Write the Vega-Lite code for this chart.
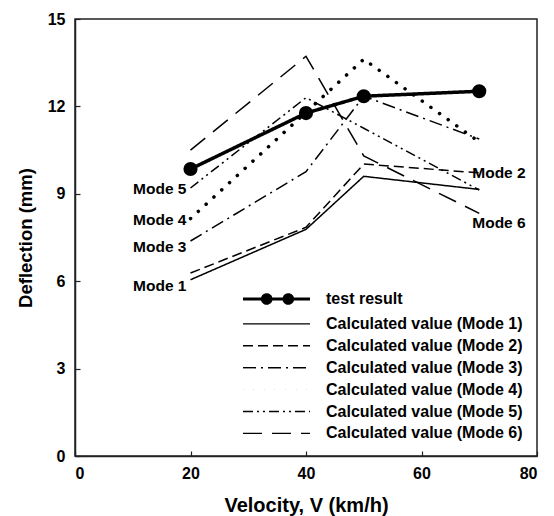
{
  "$schema": "https://vega.github.io/schema/vega-lite/v6.json",
  "width": 462,
  "height": 437,
  "autosize": "none",
  "padding": {"left": 75, "top": 19, "right": 17, "bottom": 60},
  "background": "white",
  "config": {
    "font": "Liberation Sans",
    "view": {"stroke": "#222", "strokeWidth": 1.5},
    "axis": {
      "grid": false,
      "domainColor": "#222",
      "domainWidth": 1.5,
      "tickColor": "#222",
      "tickWidth": 1.2,
      "tickSize": -5,
      "labelFont": "Liberation Sans",
      "labelFontWeight": "bold",
      "labelFontSize": 16,
      "labelColor": "black",
      "titleFont": "Liberation Sans",
      "titleFontWeight": "bold",
      "titleColor": "black"
    }
  },
  "data": {
    "values": [
      {"series": "test result", "mode": "", "velocity": 20, "deflection": 9.85},
      {"series": "test result", "mode": "", "velocity": 40, "deflection": 11.77},
      {"series": "test result", "mode": "", "velocity": 50, "deflection": 12.35},
      {"series": "test result", "mode": "", "velocity": 70, "deflection": 12.52},
      {"series": "Calculated value (Mode 1)", "mode": "Mode 1", "velocity": 20, "deflection": 6.05},
      {"series": "Calculated value (Mode 1)", "mode": "Mode 1", "velocity": 40, "deflection": 7.78},
      {"series": "Calculated value (Mode 1)", "mode": "Mode 1", "velocity": 50, "deflection": 9.6},
      {"series": "Calculated value (Mode 1)", "mode": "Mode 1", "velocity": 70, "deflection": 9.15},
      {"series": "Calculated value (Mode 2)", "mode": "Mode 2", "velocity": 20, "deflection": 6.28},
      {"series": "Calculated value (Mode 2)", "mode": "Mode 2", "velocity": 40, "deflection": 7.85},
      {"series": "Calculated value (Mode 2)", "mode": "Mode 2", "velocity": 50, "deflection": 10.02},
      {"series": "Calculated value (Mode 2)", "mode": "Mode 2", "velocity": 70, "deflection": 9.72},
      {"series": "Calculated value (Mode 3)", "mode": "Mode 3", "velocity": 20, "deflection": 7.38},
      {"series": "Calculated value (Mode 3)", "mode": "Mode 3", "velocity": 40, "deflection": 9.76},
      {"series": "Calculated value (Mode 3)", "mode": "Mode 3", "velocity": 50, "deflection": 12.35},
      {"series": "Calculated value (Mode 3)", "mode": "Mode 3", "velocity": 70, "deflection": 10.88},
      {"series": "Calculated value (Mode 4)", "mode": "Mode 4", "velocity": 20, "deflection": 8.15},
      {"series": "Calculated value (Mode 4)", "mode": "Mode 4", "velocity": 40, "deflection": 11.8},
      {"series": "Calculated value (Mode 4)", "mode": "Mode 4", "velocity": 50, "deflection": 13.62},
      {"series": "Calculated value (Mode 4)", "mode": "Mode 4", "velocity": 70, "deflection": 10.78},
      {"series": "Calculated value (Mode 5)", "mode": "Mode 5", "velocity": 20, "deflection": 9.2},
      {"series": "Calculated value (Mode 5)", "mode": "Mode 5", "velocity": 40, "deflection": 12.3},
      {"series": "Calculated value (Mode 5)", "mode": "Mode 5", "velocity": 50, "deflection": 11.25},
      {"series": "Calculated value (Mode 5)", "mode": "Mode 5", "velocity": 70, "deflection": 9.13},
      {"series": "Calculated value (Mode 6)", "mode": "Mode 6", "velocity": 20, "deflection": 10.5},
      {"series": "Calculated value (Mode 6)", "mode": "Mode 6", "velocity": 40, "deflection": 13.72},
      {"series": "Calculated value (Mode 6)", "mode": "Mode 6", "velocity": 50, "deflection": 10.3},
      {"series": "Calculated value (Mode 6)", "mode": "Mode 6", "velocity": 70, "deflection": 8.33}
    ]
  },
  "encoding": {
    "x": {
      "field": "velocity", "type": "quantitative",
      "scale": {"domain": [0, 80], "nice": false},
      "axis": {"values": [0, 20, 40, 60, 80], "title": "Velocity, V (km/h)", "titleFontSize": 20, "labelPadding": 14, "titlePadding": 14}
    },
    "y": {
      "field": "deflection", "type": "quantitative",
      "scale": {"domain": [0, 15], "nice": false},
      "axis": {"values": [0, 3, 6, 9, 12, 15], "title": "Deflection (mm)", "titleFontSize": 18.5, "labelPadding": 15, "titlePadding": 12}
    }
  },
  "layer": [
    {
      "transform": [{"filter": "datum.series !== 'test result' && datum.series !== 'Calculated value (Mode 4)'"}],
      "mark": {"type": "line", "color": "black", "strokeWidth": 1.5},
      "encoding": {
        "strokeDash": {
          "field": "series", "type": "nominal",
          "scale": {
            "domain": ["test result", "Calculated value (Mode 1)", "Calculated value (Mode 2)", "Calculated value (Mode 3)", "Calculated value (Mode 4)", "Calculated value (Mode 5)", "Calculated value (Mode 6)"],
            "range": [[1, 0], [1, 0], [10, 5], [13, 5, 2, 5], [0.1, 10.5], [10, 4, 2, 4, 2, 4], [19, 10]]
          },
          "legend": {
            "orient": "bottom-right",
            "offset": 14,
            "title": null,
            "padding": 0,
            "labelFont": "Liberation Sans",
            "labelFontWeight": "bold",
            "labelFontSize": 16,
            "labelColor": "black",
            "labelLimit": 0,
            "labelOffset": 70,
            "rowPadding": 5.9,
            "symbolSize": 100,
            "symbolStrokeWidth": 1.3,
            "symbolStrokeColor": "black",
            "encode": {
              "symbols": {
                "update": {
                  "shape": {"signal": "datum.value === 'test result' ? 'M-1,0L12.4,0M2.88,0A0.86,0.86,0,1,0,4.6,0A0.86,0.86,0,1,0,2.88,0ZM7.2,0A0.86,0.86,0,1,0,8.92,0A0.86,0.86,0,1,0,7.2,0Z' : 'M-1,0L12.4,0'"},
                  "fill": {"signal": "datum.value === 'test result' ? 'black' : 'transparent'"},
                  "strokeWidth": {"signal": "datum.value === 'test result' ? 3 : 1.4"},
                  "strokeDash": {"signal": "datum.value === 'test result' ? [1, 0] : datum.value === 'Calculated value (Mode 1)' ? [1, 0] : datum.value === 'Calculated value (Mode 2)' ? [7, 5] : datum.value === 'Calculated value (Mode 3)' ? [8, 4, 2, 4] : datum.value === 'Calculated value (Mode 4)' ? [1.5, 1.5] : datum.value === 'Calculated value (Mode 5)' ? [8, 4, 2, 3, 2, 4] : [16, 12]"},
                  "stroke": {"value": "black"}
                }
              }
            }
          }
        }
      }
    },
    {
      "transform": [{"filter": "datum.series === 'Calculated value (Mode 4)'"}],
      "mark": {"type": "line", "color": "black", "strokeWidth": 3.5, "strokeCap": "round"},
      "encoding": {"strokeDash": {"field": "series", "type": "nominal"}}
    },
    {
      "transform": [{"filter": "datum.series === 'test result'"}],
      "mark": {"type": "line", "color": "black", "strokeWidth": 3.5},
      "encoding": {"strokeDash": {"field": "series", "type": "nominal"}}
    },
    {
      "transform": [{"filter": "datum.series === 'test result'"}],
      "mark": {"type": "point", "shape": "circle", "filled": true, "color": "black", "size": 200, "opacity": 1}
    },
    {
      "transform": [{"filter": "datum.velocity === 20 && (datum.mode === 'Mode 4' || datum.mode === 'Mode 5')"}],
      "mark": {"type": "text", "align": "right", "baseline": "middle", "dx": -4, "dy": 1, "font": "Liberation Sans", "fontWeight": "bold", "fontSize": 15.5, "color": "black"},
      "encoding": {"text": {"field": "mode"}}
    },
    {
      "transform": [{"filter": "datum.velocity === 20 && (datum.mode === 'Mode 1' || datum.mode === 'Mode 3')"}],
      "mark": {"type": "text", "align": "right", "baseline": "middle", "dx": -4, "dy": 6, "font": "Liberation Sans", "fontWeight": "bold", "fontSize": 15.5, "color": "black"},
      "encoding": {"text": {"field": "mode"}}
    },
    {
      "transform": [{"filter": "datum.velocity === 70 && datum.mode === 'Mode 2'"}],
      "mark": {"type": "text", "align": "left", "baseline": "middle", "dx": -7, "dy": 0, "font": "Liberation Sans", "fontWeight": "bold", "fontSize": 15.5, "color": "black"},
      "encoding": {"text": {"field": "mode"}}
    },
    {
      "transform": [{"filter": "datum.velocity === 70 && datum.mode === 'Mode 6'"}],
      "mark": {"type": "text", "align": "left", "baseline": "middle", "dx": -7, "dy": 10, "font": "Liberation Sans", "fontWeight": "bold", "fontSize": 15.5, "color": "black"},
      "encoding": {"text": {"field": "mode"}}
    }
  ]
}
